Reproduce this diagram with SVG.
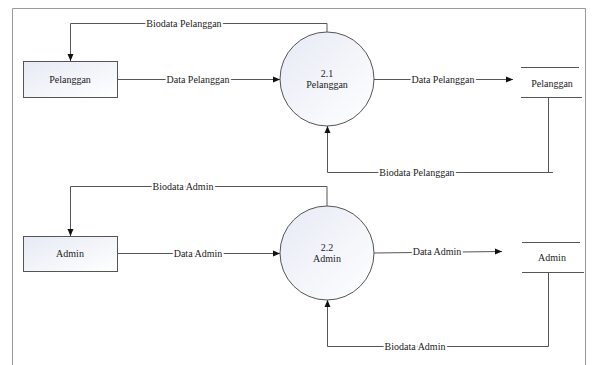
<svg xmlns="http://www.w3.org/2000/svg" width="595" height="365" viewBox="0 0 595 365">
<defs>
<linearGradient id="g" x1="0" y1="0" x2="1" y2="1">
<stop offset="0" stop-color="#e6eaf4"/>
<stop offset="1" stop-color="#ffffff"/>
</linearGradient>
<marker id="ah" markerWidth="8" markerHeight="8" refX="7" refY="4" orient="auto" markerUnits="userSpaceOnUse">
<path d="M0,1 L7,4 L0,7 Z" fill="#111"/>
</marker>
<style>
text{font-family:"Liberation Serif","Times New Roman",serif;font-size:10px;fill:#222;text-anchor:middle}
.lbl{paint-order:stroke;stroke:#fff;stroke-width:4px;stroke-linejoin:round}
.box{fill:url(#g);stroke:#555;stroke-width:1}
.ln{fill:none;stroke:#555;stroke-width:1}
.st{stroke:#555;stroke-width:1}
</style>
</defs>
<rect x="0" y="0" width="595" height="365" fill="#fff"/>
<path d="M12.5,370 V8.5 H585.5 V370" fill="none" stroke="#999" stroke-width="1"/>

<g id="connectors">
<polyline class="ln" points="327,32 327,23.5 70.5,23.5 70.5,61" marker-end="url(#ah)"/>
<text class="lbl" x="184" y="26.5">Biodata Pelanggan</text>
<line class="ln" x1="117" y1="79.5" x2="280" y2="79.5" marker-end="url(#ah)"/>
<text class="lbl" x="198" y="82.5">Data Pelanggan</text>
<line class="ln" x1="374" y1="79.5" x2="513" y2="79.5" marker-end="url(#ah)"/>
<text class="lbl" x="443" y="82.5">Data Pelanggan</text>
<polyline class="ln" points="548.5,97 548.5,172.5 327.5,172.5 327.5,126" marker-end="url(#ah)"/>
<line class="ln" x1="548" y1="172.5" x2="553" y2="172.5"/>
<text class="lbl" x="417" y="175.5">Biodata Pelanggan</text>

<polyline class="ln" points="327,206 327,186.5 70.5,186.5 70.5,236" marker-end="url(#ah)"/>
<text class="lbl" x="183" y="189.5">Biodata Admin</text>
<line class="ln" x1="117" y1="253.5" x2="280" y2="253.5" marker-end="url(#ah)"/>
<text class="lbl" x="198" y="256.5">Data Admin</text>
<line class="ln" x1="374" y1="253" x2="502" y2="251.5" marker-end="url(#ah)"/>
<text class="lbl" x="437" y="254.5">Data Admin</text>
<polyline class="ln" points="548.5,272 548.5,346.5 327.5,346.5 327.5,300" marker-end="url(#ah)"/>
<text class="lbl" x="415" y="349.5">Biodata Admin</text>
</g>

<g id="ext-pelanggan">
<rect class="box" x="23.5" y="61.5" width="94" height="36"/>
<text x="70" y="83">Pelanggan</text>
</g>
<g id="proc-2-1">
<circle class="box" cx="327" cy="79" r="47"/>
<text x="327" y="77">2.1</text>
<text x="327" y="88">Pelanggan</text>
</g>
<g id="store-pelanggan">
<line class="st" x1="521" y1="67.5" x2="579" y2="67.5"/>
<line class="st" x1="521" y1="97.5" x2="582" y2="97.5"/>
<text x="552" y="87">Pelanggan</text>
</g>

<g id="ext-admin">
<rect class="box" x="23.5" y="236.5" width="94" height="35"/>
<text x="70" y="257">Admin</text>
</g>
<g id="proc-2-2">
<circle class="box" cx="327" cy="253" r="47"/>
<text x="327" y="251">2.2</text>
<text x="327" y="262">Admin</text>
</g>
<g id="store-admin">
<line class="st" x1="522" y1="242.5" x2="580" y2="242.5"/>
<line class="st" x1="522" y1="272.5" x2="584" y2="272.5"/>
<text x="552" y="261">Admin</text>
</g>
</svg>
